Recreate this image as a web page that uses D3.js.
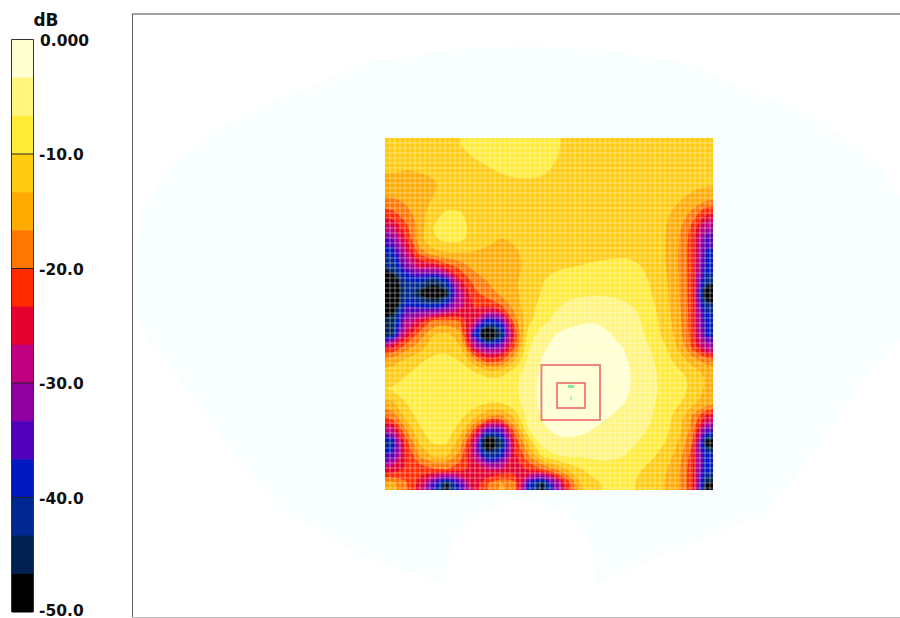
<!DOCTYPE html>
<html>
<head>
<meta charset="utf-8">
<script src="https://cdn.jsdelivr.net/npm/d3@7"></script>
<style>
  html, body { margin: 0; padding: 0; background: #fff; overflow: hidden; }
  svg { display: block; }
  text { font-family: "DejaVu Sans", sans-serif; font-weight: bold; fill: #111; }
</style>
</head>
<body>
<div id="chart"></div>
<script>
// Colour bands of the dB legend, top (0 dB) to bottom (-50 dB)
const bandColors = ['#ffffd0', '#fff47e', '#ffeb38', '#ffcc11', '#ffaa00', '#ff7700', '#ff2a00',
                    '#e4002f', '#c00080', '#9000a0', '#5000b8', '#0018c0', '#002890', '#002050', '#000000'];
const legendTicks = [0, -10, -20, -30, -40, -50];

// Loss in dB (positive numbers), 24 columns x 26 rows.
// Well centres are above 50 because the colour scale saturates there.
const lossRows = [
  [13,13,12.5,12, 11.5,10,9.5,9, 8.5,8.5,8.5,9, 9.5,11,11.5,12, 12,12,12,12, 12,12,12,12.5],
  [13,13,13,12.5, 12,11,10,9.3, 8.8,8.5,8.5,9, 9.8,11.2,11.5,12, 12,12,12,12, 12,12,12,12.5],
  [13.2,13.4,13.3,13, 12.5,12,11.2,10.5, 9.8,9.3,9.2,9.3, 10.8,11.5,12,12, 12,12,12,12, 12,12,12.3,12.7],
  [14.5,14.5,14.3,13.8, 12.8,12.3,12,11.5, 11.2,10.8,10.8,11.2, 11.5,12,12,12, 12,12,12,12, 12,12.3,12.8,13.2],
  [17,16,14.8,13.2, 11.2,11.2,11.5,11.5, 11.5,11.5,11.5,11.5, 12,12,12,12, 12,12,12,12, 12.2,13,14.2,16.5],
  [21,18,15,11, 9.7,9.8,11,11.5, 12,12,12,12, 12,12,12,12, 12,12,12,12, 12.8,14.5,17.5,23],
  [27,21,16,10, 8.5,8.6,11,11.5, 12.3,12,12,12, 12,12,12,12, 12,12,12,12, 13.2,16,21,30],
  [34,24,14,10.3, 8.9,9,11.5,12.5, 13.5,13,12.3,12, 12,12,12,12, 12,12,12,12, 13.3,16.5,22,36],
  [40,28,19,14.5, 13.5,13.5,13.5,14, 14.5,13.8,12.5,12, 12,12,11.5,11, 10.7,10.3,11,11.5, 13.3,16.8,22,37],
  [43,33,26,27, 22,19,15.5,15, 15,14.5,12.5,11.5, 10.5,10.2,9.7,9.3, 9.2,9.2,9.6,11, 13.3,16.8,22,38],
  [54,40,38,45, 38,24,19,16.5, 15.5,13.8,11.5,10.2, 8.5,8,8,8, 8,8,9,10.2, 12.5,16.5,22,42],
  [58,41,47,60, 48,30,21,18, 16,14,11.5,9.8, 8,7,7,6.9, 7,7.5,8.5,10, 12.5,16.5,22,55],
  [54,36,37,38, 35,28,23,24, 21,15.5,11,9, 7,6,5.5,5, 5.2,5.8,7,9, 12,16,22,42],
  [44,30,25,19, 18,20,26,40, 35,18,11,8, 5.5,4.2,3.8,3.4, 3.8,5,6.2,8.5, 11.5,15.5,22,38],
  [45,26,19,13.5, 12.5,15,38,66, 46,23,8,5, 3.3,2.3,2,2, 3.3,4.3,5.5,8.2, 11.2,15,22,38],
  [24,18,15,11, 10.8,13,27,34, 31,20,7,3.8, 2.5,1.8,1.5,1.5, 2,3.4,4.8,6.9, 9.5,14,21,30],
  [15,12,10.5,9, 8.5,10,15,21, 20,13,6,3, 2,1.2,1,1, 1.2,2.9,4.4,6.2, 8.5,11.5,14.5,18],
  [11.5,10.2,8.5,8, 8,8.3,9,10.5, 10.5,7.5,4.8,2.6, 1.6,1,0.8,0.7, 1,2.4,4.2,6, 7.5,9,11,13.5],
  [10,8,7.7,7.5, 7.5,7.7,8,8.3, 8,7.2,4.6,2.4, 1.4,0.8,0.6,0.5, 0.8,2.6,4.2,6, 7.3,8.5,10.5,13.8],
  [14,10,8,7.5, 7.5,7.8,8.5,10, 10,8,4.4,2.6, 1.5,0.9,0.7,0.8, 1.4,3.2,4.4,6.2, 7.8,9.5,12,15],
  [19,12,9,7.8, 7.5,9,12,16, 17,12,5,3, 1.8,1.2,1.3,2.2, 3.3,4.4,5,6.5, 8.6,12,17,24],
  [28,17,10.5,8, 8,11.5,20,35, 34,18,6.5,3.8, 2.8,2.4,2.8,3.6, 4.4,5,5.8,7, 8.8,12,18,34],
  [42,22,13,9.5, 9.5,15,28,66, 46,23,12.5,5, 3.9,3.8,4,4.8, 5.5,6,6.7,8, 10,13.5,20,50],
  [36,24,16.5,13, 13,18,28,43, 38,24,17,9.5, 7,6.2,6.5,6, 6,6.6,8,9.5, 11.5,15,22,39],
  [26,23,22,20.5, 20,22,24,27, 27,24,23,20, 17,12.8,10,8, 8,8.5,9.7,11, 13,16.5,22.5,40],
  [15,19,25,36, 47.5,36,25,20, 16,19,38,47.5, 33,21,13,10.5, 9.3,9,10.3,12, 13.5,16.5,22.5,47]
];

// Sensor outline and markers, in plot units (plot is 384 x 302)
const fanX = [2,2,3.5,18.5,40,62,85,115,165,196,227,277,307,330,352,373.5,388.5,390,387,367,342,317,267,232.5,228.5,217,197,173.5,160,156,115,73.5,48.5,23.5,5];
const fanY = [153,123,99,75.5,59,47,38,24.5,17,16,17,24.5,38,47,59,75.5,99,153,159.5,180.5,218,249.5,269.5,284.5,264.5,249.5,241.5,249.5,261.5,284.5,271.5,246.5,218,183,159.5];
const mapExtent = { x: [126, 290], y: [62, 238] };
const zones = [
  { x: [204.2, 233.5], y: [175.5, 203] },
  { x: [212, 226], y: [184.5, 197] }
];
const probes = [
  { x: 219, y: 185.5, w: 3, h: 1.5 },
  { x: 219, y: 191, w: 0.6, h: 2 }
];

const W = 900, H = 618;
const svg = d3.select('#chart').append('svg').attr('width', W).attr('height', H);

// ── Plot scales ─────────────────────────────────────────
const xPlot = d3.scaleLinear().domain([0, 384]).range([133, 901]);
const yPlot = d3.scaleLinear().domain([0, 302]).range([14, 618]);

// Faint fan behind the map
svg.append('path')
  .attr('d', d3.line().x((d, i) => xPlot(fanX[i])).y((d, i) => yPlot(fanY[i])).curve(d3.curveLinearClosed)(fanX))
  .attr('fill', '#f9fefe');

// Plot frame: only left, top and bottom edges are visible
svg.append('line').attr('x1', 132.5).attr('x2', 132.5).attr('y1', 14).attr('y2', 617).attr('stroke', '#666');
svg.append('line').attr('x1', 132).attr('x2', W).attr('y1', 14).attr('y2', 14).attr('stroke', '#444');
svg.append('line').attr('x1', 132).attr('x2', W).attr('y1', 617.5).attr('y2', 617.5).attr('stroke', '#bbb');

// ── Contour map ─────────────────────────────────────────
const nRows = lossRows.length, nCols = lossRows[0].length;
// one repeated row/column around the table, so contour rings close outside the clip
const paddedRows = [lossRows[0], ...lossRows, lossRows[nRows - 1]].map(r => [r[0], ...r, r[nCols - 1]]);
const dbValues = paddedRows.flat().map(v => -v);
const legendY = d3.scaleLinear().domain([0, -50]).range([39.5, 612]);
const bandStep = 50 / bandColors.length;
const levels = bandColors.slice(0, -1).map((c, i) => -(bandColors.length - 1 - i) * bandStep);

const xCell = d3.scaleLinear().domain([1, nCols + 1]).range([xPlot(mapExtent.x[0]), xPlot(mapExtent.x[1])]);
const yCell = d3.scaleLinear().domain([1, nRows + 1]).range([yPlot(mapExtent.y[0]), yPlot(mapExtent.y[1])]);
const mapX = xCell(1), mapY = yCell(1), mapW = xCell(nCols + 1) - mapX, mapH = yCell(nRows + 1) - mapY;

const defs = svg.append('defs');
defs.append('clipPath').attr('id', 'map-clip').append('rect')
  .attr('x', mapX).attr('y', mapY).attr('width', mapW).attr('height', mapH);
defs.append('filter').attr('id', 'soft').attr('x', '-5%').attr('y', '-5%').attr('width', '110%').attr('height', '110%')
  .append('feGaussianBlur').attr('stdDeviation', 0.55);

const mapOuter = svg.append('g').attr('filter', 'url(#soft)');
const map = mapOuter.append('g').attr('clip-path', 'url(#map-clip)');

map.append('rect')
  .attr('x', mapX).attr('y', mapY).attr('width', mapW).attr('height', mapH)
  .attr('fill', bandColors[bandColors.length - 1]);

const ringPath = d3.line().x(p => xCell(p[0])).y(p => yCell(p[1])).curve(d3.curveBasisClosed);
const contours = d3.contours().size([nCols + 2, nRows + 2]).thresholds(levels)(dbValues);

map.selectAll('path.band').data(contours).join('path')
  .attr('class', 'band')
  .attr('fill-rule', 'evenodd')
  .attr('fill', (d, i) => bandColors[bandColors.length - 2 - i])
  .attr('d', d => d.coordinates.flat().map(ring => ringPath(ring.slice(0, -1))).join(''));

// Measurement grid, every 2.5 plot units
const gridXs = d3.range(mapExtent.x[0] + 2.5, mapExtent.x[1], 2.5);
const gridYs = d3.range(mapExtent.y[0] + 2.5, mapExtent.y[1], 2.5);
map.selectAll('line.gx').data(gridXs).join('line').attr('class', 'gx')
  .attr('x1', d => xPlot(d)).attr('x2', d => xPlot(d))
  .attr('y1', mapY).attr('y2', mapY + mapH)
  .attr('stroke', '#fff').attr('stroke-opacity', 0.4);
map.selectAll('line.gy').data(gridYs).join('line').attr('class', 'gy')
  .attr('y1', d => yPlot(d)).attr('y2', d => yPlot(d))
  .attr('x1', mapX).attr('x2', mapX + mapW)
  .attr('stroke', '#fff').attr('stroke-opacity', 0.4);

// Red zone boxes and green probe marks
svg.selectAll('rect.zone').data(zones).join('rect').attr('class', 'zone')
  .attr('x', d => xPlot(d.x[0])).attr('y', d => yPlot(d.y[0]))
  .attr('width', d => xPlot(d.x[1]) - xPlot(d.x[0]))
  .attr('height', d => yPlot(d.y[1]) - yPlot(d.y[0]))
  .attr('fill', 'none').attr('stroke', '#ec7a72').attr('stroke-width', 1.8);
svg.selectAll('rect.probe').data(probes).join('rect').attr('class', 'probe')
  .attr('x', d => xPlot(d.x - d.w / 2)).attr('y', d => yPlot(d.y))
  .attr('width', d => xPlot(d.w) - xPlot(0)).attr('height', d => yPlot(d.h) - yPlot(0))
  .attr('fill', '#86e8a0');

// ── Legend ──────────────────────────────────────────────
const legend = svg.append('g');
legend.selectAll('rect').data(bandColors).join('rect')
  .attr('x', 12).attr('width', 21)
  .attr('y', (d, i) => legendY(-i * bandStep))
  .attr('height', (legendY(-50) - legendY(0)) / bandColors.length + 0.5)
  .attr('fill', d => d);
legend.append('path')
  .attr('d', `M11.5,${legendY(-50)}V${legendY(0)}H33.5V${legendY(-50)}`)
  .attr('fill', 'none').attr('stroke', '#333');
legend.selectAll('line').data(legendTicks.slice(1, -1)).join('line')
  .attr('x1', 12).attr('x2', 34)
  .attr('y1', d => legendY(d)).attr('y2', d => legendY(d))
  .attr('stroke', '#222');
legend.selectAll('text.tick').data(legendTicks).join('text').attr('class', 'tick')
  .attr('x', d => d === 0 ? 40 : 39)
  .attr('y', d => legendY(d) + (d === -50 ? 4 : 6))
  .attr('font-size', 15.5)
  .text(d => d === 0 ? '0.000' : d3.format('.1f')(d).replace('−', '-'));
legend.append('text')
  .attr('x', 46).attr('y', 26)
  .attr('text-anchor', 'middle').attr('font-size', 17)
  .text('dB');
</script>
</body>
</html>
